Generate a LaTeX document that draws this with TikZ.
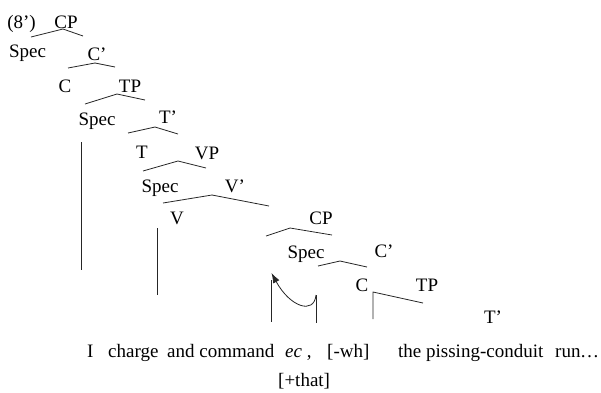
\documentclass[tikz,border=0pt]{standalone}
\usepackage{fontspec}
\setmainfont{Liberation Serif}
\usetikzlibrary{arrows.meta}
\begin{document}
\begin{tikzpicture}[x=1pt,y=-1pt,
  lbl/.style={inner sep=0pt, anchor=base, font=\fontsize{19}{22}\selectfont},
  wrd/.style={inner sep=0pt, anchor=base west, font=\fontsize{19}{22}\selectfont},
  br/.style={line width=0.8pt, black!85},
  tr/.style={line width=0.8pt, black!85}]
\useasboundingbox (0,0) rectangle (601,392);
% labels
\node[lbl] (ex) at (21.5,28) {(8')};
\node[lbl] (cp1) at (66,28) {CP};
\node[lbl] (spec1) at (27.5,57) {Spec};
\node[lbl] (cb1) at (97,60) {C'};
\node[lbl] (c1) at (65,92) {C};
\node[lbl] (tp1) at (130,92) {TP};
\node[lbl] (spec2) at (97,125) {Spec};
\node[lbl] (tb1) at (168,123) {T'};
\node[lbl] (t1) at (142,158) {T};
\node[lbl] (vp) at (207,159) {VP};
\node[lbl] (spec3) at (160,192) {Spec};
\node[lbl] (vb) at (235,192) {V'};
\node[lbl] (v) at (177,224) {V};
\node[lbl] (cp2) at (321,224) {CP};
\node[lbl] (spec4) at (306,258) {Spec};
\node[lbl] (cb2) at (384,257) {C'};
\node[lbl] (c2) at (362,291) {C};
\node[lbl] (tp2) at (427,291) {TP};
\node[lbl] (tb2) at (493,323) {T'};
% words
\node[wrd] (wI) at (87,357) {I};
\node[wrd] (wcharge) at (108,357) {charge};
\node[wrd] (wand) at (167,357) {and command};
\node[wrd] (wec) at (285,357) {{\itshape ec} ,};
\node[wrd] (wwh) at (327,357) {[-wh]};
\node[wrd] (wthe) at (398,357) {the pissing-conduit};
\node[wrd] (wrun) at (555,357) {run};
\node[wrd] (wdots) at (580,357) {\ldots};
\node[wrd] (wthat) at (278,386) {[+that]};
% branch coordinates
\coordinate (a1l) at (31,37); \coordinate (a1) at (63,29); \coordinate (a1r) at (83,36);
\coordinate (a2l) at (68,68); \coordinate (a2) at (95,63); \coordinate (a2r) at (115,67);
\coordinate (a3l) at (85,104); \coordinate (a3) at (117,94); \coordinate (a3r) at (145,100);
\coordinate (a4l) at (128,133); \coordinate (a4) at (155,127); \coordinate (a4r) at (178,134);
\coordinate (a5l) at (143,171); \coordinate (a5) at (178,161); \coordinate (a5r) at (206,168);
\coordinate (a6l) at (163,203); \coordinate (a6) at (212,195); \coordinate (a6r) at (269,206);
\coordinate (a7l) at (266,236); \coordinate (a7) at (290,228); \coordinate (a7r) at (332,235);
\coordinate (a8l) at (318,266); \coordinate (a8) at (340,261); \coordinate (a8r) at (367,267);
\coordinate (a9b) at (373,319); \coordinate (a9) at (373,292); \coordinate (a9r) at (423,303);
\draw[br] (a1l) -- (a1) -- (a1r);
\draw[br] (a2l) -- (a2) -- (a2r);
\draw[br] (a3l) -- (a3) -- (a3r);
\draw[br] (a4l) -- (a4) -- (a4r);
\draw[br] (a5l) -- (a5) -- (a5r);
\draw[br] (a6l) -- (a6) -- (a6r);
\draw[br] (a7l) -- (a7) -- (a7r);
\draw[br] (a8l) -- (a8) -- (a8r);
\draw[br] (a9b) -- (a9) -- (a9r);
% traces
\coordinate (s1t) at (81,142); \coordinate (s1b) at (81,270);
\coordinate (v1t) at (157,228); \coordinate (v1b) at (157,295);
\coordinate (e1t) at (271,280); \coordinate (e1b) at (271,322);
\coordinate (e2t) at (316,295); \coordinate (e2b) at (316,323);
\coordinate (tip) at (271.5,273);
\draw[tr] (s1t) -- (s1b);
\draw[tr] (v1t) -- (v1b);
\draw[tr] (e1t) -- (e1b);
\draw[tr] (e2t) -- (e2b);
\draw[tr, -{Latex[length=10pt,width=7pt]}] (e2t) .. controls (314,315) and (290,307) .. (tip);
\end{tikzpicture}
\end{document}
